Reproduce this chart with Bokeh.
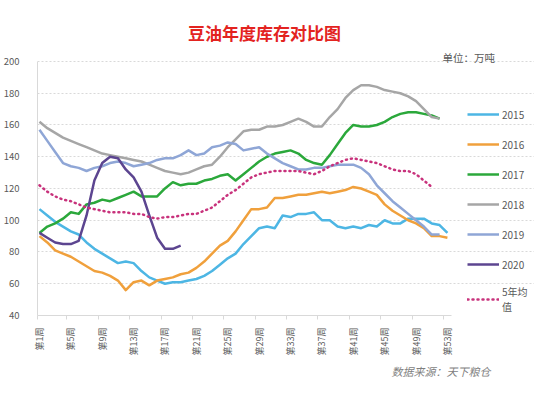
import math
from bokeh.plotting import figure
from bokeh.models import (ColumnDataSource, FixedTicker, Label, Legend, LegendItem, Range1d, Title)
from bokeh.embed import file_html
from bokeh.resources import INLINE

weeks = list(range(1, 54))
tick_weeks = list(range(1, 54, 4))
tick_labels = ["第%d周" % w for w in tick_weeks]
y_ticks = [40, 60, 80, 100, 120, 140, 160, 180, 200]

s2015 = [107, 103, 99, 96, 93, 91, 86, 82, 79, 76, 73, 74, 73, 68, 64, 62, 60, 61, 61, 62,
         63, 65, 68, 72, 76, 79, 85, 90, 95, 96, 95, 103, 102, 104, 104, 105, 100, 100, 96, 95,
         96, 95, 97, 96, 100, 98, 98, 101, 101, 101, 98, 97, 92]
s2016 = [90, 86, 81, 79, 77, 74, 71, 68, 67, 65, 62, 56, 61, 62, 59, 62, 63, 64, 66, 67,
         70, 74, 79, 84, 87, 93, 100, 107, 107, 108, 114, 114, 115, 116, 116, 117, 118, 117, 118, 119,
         121, 120, 118, 116, 110, 106, 103, 100, 98, 95, 90, 90, 89]
s2017 = [92, 96, 98, 101, 105, 104, 110, 111, 113, 112, 114, 116, 118, 115, 115, 115, 120, 124, 122, 123,
         123, 125, 126, 128, 129, 125, 129, 133, 137, 140, 142, 143, 144, 142, 138, 136, 135, 141, 148, 155,
         160, 159, 159, 160, 162, 165, 167, 168, 168, 167, 166, 164]
s2018 = [162, 158, 155, 152, 150, 148, 146, 144, 142, 141, 140, 139, 138, 137, 135, 133, 131, 130, 129, 130,
         132, 134, 135, 140, 146, 151, 156, 157, 157, 159, 159, 160, 162, 164, 162, 159, 159, 165, 170, 177,
         182, 185, 185, 184, 182, 181, 180, 178, 175, 170, 165, 164]
s2019 = [157, 150, 143, 136, 134, 133, 131, 133, 134, 136, 137, 136, 134, 135, 136, 138, 139, 139, 141, 144,
         141, 142, 146, 147, 149, 148, 144, 145, 146, 142, 139, 136, 134, 132, 132, 133, 133, 134, 135, 135,
         135, 133, 129, 122, 117, 112, 108, 104, 100, 96, 91, 91]
s2020 = [92, 89, 86, 85, 85, 87, 103, 125, 136, 140, 139, 132, 127, 118, 103, 89, 82, 82, 84]
avg5 = [122, 118, 115, 113, 112, 110, 108, 107, 106, 105, 105, 105, 104, 104, 102, 101, 102, 102, 103, 104,
        104, 106, 108, 112, 116, 119, 123, 127, 129, 130, 131, 131, 131, 131, 130, 129, 131, 134, 136, 138,
        139, 138, 137, 136, 134, 132, 131, 131, 129, 125, 121]

series = [
    ("2015", s2015, "#4DB6E4", None),
    ("2016", s2016, "#F0A03C", None),
    ("2017", s2017, "#2BA83B", None),
    ("2018", s2018, "#A6A6A6", None),
    ("2019", s2019, "#8FA6D6", None),
    ("2020", s2020, "#5C4590", None),
    ("5年均\n值", avg5, "#C8327C", "1 4"),
]

FONT = "Noto Sans CJK SC"
X0, X1 = 0.75, 53.5      # extent of the category axis
Y0, Y1 = 40, 200         # extent of the value axis

p = figure(width=534, height=385, output_backend="svg", toolbar_location=None,
           x_range=Range1d(X0, 64.1), y_range=Range1d(Y0, 234.0),
           min_border_left=32, min_border_right=0, min_border_top=7, min_border_bottom=70)
p.outline_line_color = None
p.background_fill_color = "white"
p.border_fill_color = "white"

items = []
for name, vals, color, dash in series:
    src = ColumnDataSource(dict(x=weeks[:len(vals)], y=vals))
    if dash:
        r = p.line("x", "y", source=src, line_color=color, line_width=2.5,
                   line_dash=dash, line_cap="round")
    else:
        r = p.line("x", "y", source=src, line_color=color, line_width=2.5, line_join="round")
    items.append(LegendItem(label=name, renderers=[r]))

# axes
p.xaxis.bounds = (X0, X1)
p.xaxis.ticker = FixedTicker(ticks=tick_weeks, minor_ticks=[w + 3.5 for w in tick_weeks[:-1]] + [X0])
p.xaxis.major_label_overrides = {w: l for w, l in zip(tick_weeks, tick_labels)}
p.xaxis.major_label_orientation = math.pi / 2
p.xaxis.major_tick_line_color = None
p.xaxis.minor_tick_line_color = "#d9d9d9"
p.xaxis.minor_tick_out = 4
p.xaxis.minor_tick_in = 0
p.xaxis.major_label_standoff = 6
p.xaxis.axis_line_color = "#d9d9d9"
p.xaxis.major_label_text_font = FONT
p.xaxis.major_label_text_font_size = "9px"
p.xaxis.major_label_text_color = "#595959"

p.yaxis.bounds = (Y0, Y1)
p.yaxis.ticker = FixedTicker(ticks=y_ticks)
p.yaxis.major_tick_line_color = None
p.yaxis.minor_tick_line_color = None
p.yaxis.axis_line_color = "#d9d9d9"
p.yaxis.major_label_standoff = 12
p.yaxis.major_label_text_font = FONT
p.yaxis.major_label_text_font_size = "9.5px"
p.yaxis.major_label_text_color = "#595959"

p.xgrid.grid_line_color = None
p.ygrid.grid_line_color = "#d9d9d9"
p.ygrid.grid_line_dash = "2 2"
p.ygrid.bounds = (X0, X1)

legend = Legend(items=items, location=(430, 1), padding=0, margin=0, spacing=10,
                glyph_width=32, glyph_height=20, label_height=20, label_standoff=3,
                border_line_color=None, background_fill_alpha=0,
                label_text_font=FONT, label_text_font_size="10px", label_text_color="#595959")
p.add_layout(legend, "center")

title = Label(x=227, y=283, x_units="screen", y_units="screen", text="豆油年度库存对比图",
              text_align="center", text_baseline="middle", text_font=FONT,
              text_font_size="17px", text_font_style="bold", text_color="#E3231F")
unit = Label(x=405, y=258, x_units="screen", y_units="screen", text="单位：万吨",
             text_align="left", text_baseline="middle", text_font=FONT,
             text_font_size="10.5px", text_color="#595959")
p.add_layout(title)
p.add_layout(unit)

source = Title(text="数据来源：天下粮仓", align="left", offset=354, standoff=4,
               text_font=FONT, text_font_size="11px", text_font_style="italic",
               text_color="#7f7f7f")
p.add_layout(source, "below")

open("out.html", "w").write(file_html(p, INLINE))
